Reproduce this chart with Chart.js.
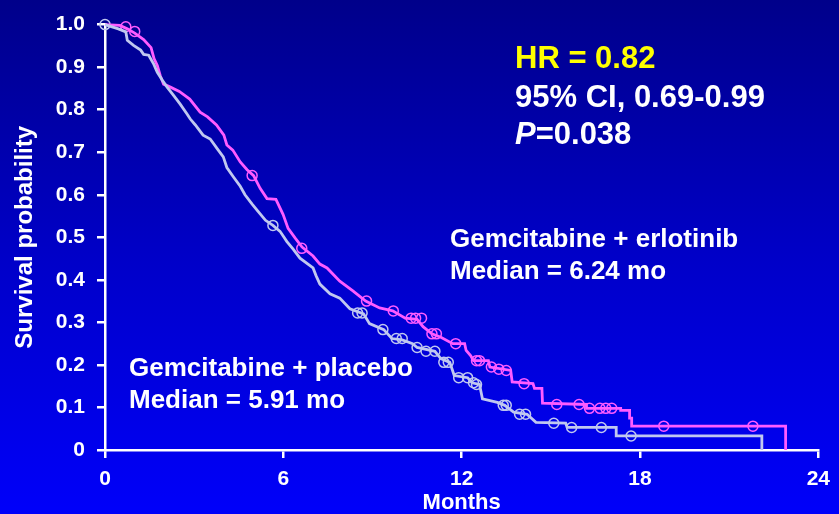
<!DOCTYPE html>
<html lang="en">
<head>
  <meta charset="UTF-8">
  <title>Survival probability - Gemcitabine + erlotinib vs placebo</title>
  <script src="https://cdn.jsdelivr.net/npm/chart.js@4/dist/chart.umd.min.js"></script>
  <style>
    html, body {
      margin: 0;
      padding: 0;
      width: 839px;
      height: 514px;
      overflow: hidden;
      background: linear-gradient(to bottom, #00008a 0%, #0000c8 50%, #0000fa 100%);
    }
    #wrap {
      position: relative;
      width: 839px;
      height: 514px;
    }
  </style>
</head>
<body>
  <div id="wrap"><canvas id="km"></canvas></div>

  <script>
    // Axis ticks
    const monthTicks = [0, 6, 12, 18, 24]
    const probTicks = [0, 0.1, 0.2, 0.3, 0.4, 0.5, 0.6, 0.7, 0.8, 0.9, 1.0]

    // Gemcitabine + erlotinib, Kaplan-Meier curve.
    // Early part is dense with tiny steps, so it is kept as a trace; the clear
    // steps in the tail are given as corner pairs (same month twice).
    const erlotinibMonths = [0, 0.5, 0.75, 1.0, 1.3, 1.55, 1.65, 1.76, 1.86, 1.97, 2.2, 2.5, 2.85, 3.2, 3.45, 3.75,
      4.0, 4.1, 4.3, 4.55, 4.78, 5.0, 5.22, 5.45, 5.75, 5.99, 6.16, 6.4, 6.63, 7.0, 7.23, 7.47, 7.9, 8.34, 8.77,
      9.24, 9.68, 10.1, 10.5, 10.7, 11.0, 11.3, 11.7, 12.1, 12.15, 12.3, 12.4, 12.9, 12.95, 13.65, 13.7, 14.4,
      14.45, 14.7, 14.72, 16.2, 16.2, 17.35, 17.35, 17.65, 17.65, 17.72, 17.72, 22.9, 22.9]
    const erlotinibSurv = [1.0, 0.998, 0.99, 0.98, 0.965, 0.946, 0.92, 0.904, 0.88, 0.86, 0.853, 0.843, 0.825, 0.794,
      0.783, 0.764, 0.74, 0.717, 0.705, 0.677, 0.659, 0.645, 0.615, 0.591, 0.589, 0.554, 0.521, 0.498, 0.477, 0.456,
      0.437, 0.428, 0.397, 0.374, 0.35, 0.334, 0.327, 0.31, 0.307, 0.29, 0.273, 0.265, 0.25, 0.25, 0.234, 0.222,
      0.21, 0.21, 0.195, 0.187, 0.16, 0.156, 0.145, 0.145, 0.11, 0.107, 0.098, 0.098, 0.093, 0.093, 0.075, 0.075,
      0.056, 0.056, 0]
    const erlotinibCensMonths = [0.7, 1.0, 4.95, 6.62, 8.8, 9.7, 10.3, 10.45, 10.65, 11.0, 11.15, 11.8, 12.5, 12.6,
      13.0, 13.25, 13.5, 14.1, 15.2, 15.95, 16.3, 16.65, 16.85, 17.05, 18.8, 21.8]
    const erlotinibCensSurv = [0.995, 0.984, 0.645, 0.474, 0.35, 0.327, 0.31, 0.31, 0.31, 0.273, 0.273, 0.25, 0.21,
      0.21, 0.195, 0.19, 0.187, 0.156, 0.107, 0.107, 0.098, 0.098, 0.098, 0.098, 0.056, 0.056]

    // Gemcitabine + placebo
    const placeboMonths = [0, 0.45, 0.7, 0.75, 0.96, 1.2, 1.3, 1.47, 1.64, 1.76, 1.93, 2.09, 2.3, 2.53, 2.76, 2.87,
      3.04, 3.3, 3.54, 3.78, 3.98, 4.1, 4.31, 4.55, 4.71, 4.95, 5.15, 5.4, 5.65, 5.89, 6.12, 6.33, 6.56, 7.0, 7.1,
      7.23, 7.57, 7.9, 8.24, 8.7, 8.9, 9.38, 9.65, 10.0, 10.35, 10.5, 11.1, 11.3, 11.6, 11.75, 12.2, 12.35, 12.6,
      12.7, 13.2, 13.45, 13.75, 14.2, 14.5, 15.5, 15.55, 17.2, 17.2, 22.1, 22.1]
    const placeboSurv = [1.0, 0.99, 0.983, 0.963, 0.951, 0.94, 0.93, 0.928, 0.907, 0.888, 0.869, 0.853, 0.834, 0.813,
      0.79, 0.778, 0.764, 0.74, 0.731, 0.708, 0.689, 0.664, 0.643, 0.62, 0.6, 0.578, 0.561, 0.54, 0.528, 0.514, 0.49,
      0.472, 0.451, 0.428, 0.41, 0.39, 0.367, 0.357, 0.332, 0.32, 0.297, 0.283, 0.262, 0.259, 0.25, 0.241, 0.232,
      0.215, 0.206, 0.175, 0.17, 0.158, 0.154, 0.12, 0.112, 0.105, 0.089, 0.084, 0.065, 0.063, 0.053, 0.053, 0.033,
      0.033, 0]
    const placeboCensMonths = [0, 5.65, 8.5, 8.65, 9.35, 9.8, 10.0, 10.5, 10.8, 11.1, 11.4, 11.55, 11.9, 12.2,
      12.4, 12.5, 13.4, 13.5, 13.95, 14.15, 15.1, 15.7, 16.7, 17.7]
    const placeboCensSurv = [1.0, 0.528, 0.322, 0.322, 0.283, 0.262, 0.262, 0.241, 0.232, 0.232, 0.206, 0.206, 0.17,
      0.17, 0.158, 0.154, 0.105, 0.105, 0.084, 0.084, 0.063, 0.053, 0.053, 0.033]

    const pink = '#ff5cff'
    const lavender = '#c0c8f0'
    const white = '#ffffff'
    const font = '"Liberation Sans", Arial, Helvetica, sans-serif'

    function toPoints(xs, ys) {
      return xs.map((x, i) => ({ x, y: ys[i] }))
    }

    // Text drawn on top of the plot (HR box and group labels)
    const annotations = {
      id: 'annotations',
      afterDraw(chart) {
        const ctx = chart.ctx
        ctx.save()
        ctx.textBaseline = 'alphabetic'
        ctx.textAlign = 'left'

        ctx.font = `bold 31px ${font}`
        ctx.fillStyle = '#ffff00'
        ctx.fillText('HR = 0.82', 515, 68)
        ctx.fillStyle = white
        ctx.fillText('95% CI, 0.69-0.99', 515, 107)

        // italic P, then the rest upright
        ctx.font = `italic bold 31px ${font}`
        ctx.fillText('P', 515, 144)
        const pw = ctx.measureText('P').width
        ctx.font = `bold 31px ${font}`
        ctx.fillText('=0.038', 515 + pw, 144)

        ctx.font = `bold 26px ${font}`
        ctx.fillText('Gemcitabine + erlotinib', 450, 247)
        ctx.fillText('Median = 6.24 mo', 450, 279)
        ctx.fillText('Gemcitabine + placebo', 129, 376)
        ctx.fillText('Median = 5.91 mo', 129, 408)
        ctx.restore()
      }
    }

    new Chart(document.getElementById('km'), {
      type: 'line',
      data: {
        datasets: [
          {
            label: 'Gemcitabine + placebo',
            data: toPoints(placeboMonths, placeboSurv),
            borderColor: lavender,
            borderWidth: 2.8,
            tension: 0,
            pointRadius: 0,
            fill: false,
            clip: 4
          },
          {
            label: 'Gemcitabine + erlotinib',
            data: toPoints(erlotinibMonths, erlotinibSurv),
            borderColor: pink,
            borderWidth: 2.8,
            tension: 0,
            pointRadius: 0,
            fill: false,
            clip: 4
          },
          {
            label: 'placebo censored',
            data: toPoints(placeboCensMonths, placeboCensSurv),
            showLine: false,
            pointStyle: 'circle',
            pointRadius: 5,
            pointBorderWidth: 1.5,
            pointBorderColor: lavender,
            pointBackgroundColor: 'rgba(0,0,0,0)',
            clip: false
          },
          {
            label: 'erlotinib censored',
            data: toPoints(erlotinibCensMonths, erlotinibCensSurv),
            showLine: false,
            pointStyle: 'circle',
            pointRadius: 5,
            pointBorderWidth: 1.5,
            pointBorderColor: pink,
            pointBackgroundColor: 'rgba(0,0,0,0)',
            clip: false
          }
        ]
      },
      options: {
        responsive: true,
        maintainAspectRatio: false,
        animation: false,
        layout: { padding: { left: 0, right: 17, top: 20, bottom: 0 } },
        plugins: {
          legend: { display: false },
          tooltip: { enabled: false }
        },
        scales: {
          x: {
            type: 'linear',
            min: 0,
            max: 24,
            afterFit: scale => { scale.height = 64 },
            afterBuildTicks: scale => { scale.ticks = monthTicks.map(v => ({ value: v })) },
            border: { display: true, color: white, width: 2.5 },
            grid: { drawOnChartArea: false, drawTicks: true, tickLength: 8, color: white, lineWidth: 2.5 },
            ticks: {
              color: white,
              padding: 9,
              maxRotation: 0,
              font: { family: font, size: 21, weight: 'bold' },
              callback: v => String(v)
            },
            title: {
              display: true,
              text: 'Months',
              color: white,
              padding: 0,
              font: { family: font, size: 22, weight: 'bold', lineHeight: 1 }
            }
          },
          y: {
            type: 'linear',
            min: 0,
            max: 1,
            afterFit: scale => { scale.width = 105 },
            afterBuildTicks: scale => { scale.ticks = probTicks.map(v => ({ value: v })) },
            border: { display: true, color: white, width: 2.5 },
            grid: { drawOnChartArea: false, drawTicks: true, tickLength: 8, color: white, lineWidth: 2.5 },
            ticks: {
              color: white,
              padding: 12,
              font: { family: font, size: 21, weight: 'bold' },
              callback: v => (v === 0 ? '0' : v.toFixed(1))
            },
            title: {
              display: true,
              text: 'Survival probability',
              color: white,
              padding: { top: 11, bottom: 0 },
              font: { family: font, size: 24, weight: 'bold', lineHeight: 1.2 }
            }
          }
        }
      },
      plugins: [annotations]
    })
  </script>
</body>
</html>
